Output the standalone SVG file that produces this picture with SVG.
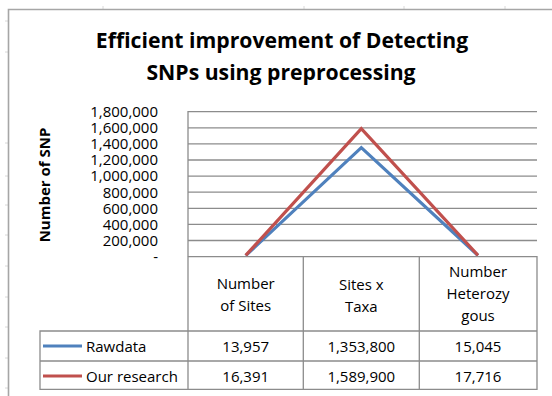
<svg xmlns="http://www.w3.org/2000/svg" width="552" height="396" viewBox="0 0 552 396">
<style>
text{font-family:"Open Sans","Liberation Sans",sans-serif;fill:#000}
.title{font-size:21.2px;font-weight:bold;text-anchor:middle}
.ax{font-size:15px;text-anchor:end}
.cell{font-size:15px;text-anchor:middle}
.leg{font-size:15px}
.grid{stroke:#8c8c8c;stroke-width:1.3;fill:none}
.tbl{stroke:#8c8c8c;stroke-width:1.3;fill:none}
.raw{stroke:#4F81BD;stroke-width:3.2;fill:none;stroke-linejoin:miter}
.ours{stroke:#C0504D;stroke-width:3.2;fill:none;stroke-linejoin:miter}
.tick{stroke:#d8d8d8;stroke-width:1}
</style>
<rect width="552" height="396" fill="#ffffff"/>
<g id="sheet-ticks">
<line class="tick" x1="103" y1="6" x2="103" y2="9"/>
<line class="tick" x1="304" y1="6" x2="304" y2="9"/>
<line class="tick" x1="404" y1="6" x2="404" y2="9"/>
<line class="tick" x1="505" y1="6" x2="505" y2="9"/>
<line class="tick" x1="5" y1="21" x2="8" y2="21"/>
<line class="tick" x1="5" y1="52" x2="8" y2="52"/>
<line class="tick" x1="5" y1="143" x2="8" y2="143"/>
<line class="tick" x1="5" y1="176" x2="8" y2="176"/>
<line class="tick" x1="5" y1="205" x2="8" y2="205"/>
<line class="tick" x1="5" y1="235" x2="8" y2="235"/>
<line class="tick" x1="5" y1="266" x2="8" y2="266"/>
<line class="tick" x1="5" y1="297" x2="8" y2="297"/>
<line class="tick" x1="5" y1="327" x2="8" y2="327"/>
<line class="tick" x1="5" y1="358" x2="8" y2="358"/>
<line class="tick" x1="5" y1="388" x2="8" y2="388"/>
</g>
<g id="frame">
<path d="M8.5 396 V9.5 H552" stroke="#a6a6a6" stroke-width="1.6" fill="none"/>
</g>
<g id="title">
<text class="title" x="282" y="48">Efficient improvement of Detecting</text>
<text class="title" x="281" y="80">SNPs using preprocessing</text>
</g>
<g id="y-axis-title">
<text x="50" y="185" font-size="15" font-weight="bold" text-anchor="middle" transform="rotate(-90 50 185)">Number of SNP</text>
</g>
<g id="gridlines">
<line class="grid" x1="188" y1="111.7" x2="537" y2="111.7"/>
<line class="grid" x1="188" y1="127.8" x2="537" y2="127.8"/>
<line class="grid" x1="188" y1="143.9" x2="537" y2="143.9"/>
<line class="grid" x1="188" y1="160" x2="537" y2="160"/>
<line class="grid" x1="188" y1="176.1" x2="537" y2="176.1"/>
<line class="grid" x1="188" y1="192.2" x2="537" y2="192.2"/>
<line class="grid" x1="188" y1="208.3" x2="537" y2="208.3"/>
<line class="grid" x1="188" y1="224.4" x2="537" y2="224.4"/>
<line class="grid" x1="188" y1="240.5" x2="537" y2="240.5"/>
<line class="grid" x1="188" y1="111" x2="188" y2="257"/>
</g>
<g id="y-axis-labels">
<text class="ax" x="158" y="117">1,800,000</text>
<text class="ax" x="158" y="133">1,600,000</text>
<text class="ax" x="158" y="149">1,400,000</text>
<text class="ax" x="158" y="165">1,200,000</text>
<text class="ax" x="158" y="181">1,000,000</text>
<text class="ax" x="158" y="197.5">800,000</text>
<text class="ax" x="158" y="213.5">600,000</text>
<text class="ax" x="158" y="229.5">400,000</text>
<text class="ax" x="158" y="245.5">200,000</text>
<text class="ax" x="158" y="262">-</text>
</g>
<g id="connectors">
<polyline id="series-rawdata" class="raw" points="245.7,255.6 361.3,147.6 478,255.5"/>
<polyline id="series-our-research" class="ours" points="245.7,255.4 361.3,128.6 478,255.3"/>
</g>
<g id="data-table">
<path class="tbl" d="M188 256.7 H537 V389.3 H40 V331 H537 M40 361 H537 M188 256.7 V389.3 M303.3 256.7 V389.3 M419.3 256.7 V389.3"/>
</g>
<g id="header-number-of-sites">
<text class="cell" x="245.7" y="288.5">Number</text>
<text class="cell" x="245.7" y="310.5">of Sites</text>
</g>
<g id="header-sites-x-taxa">
<text class="cell" x="361.3" y="289.5">Sites x</text>
<text class="cell" x="361.3" y="311.5">Taxa</text>
</g>
<g id="header-number-heterozygous">
<text class="cell" x="478" y="276.7">Number</text>
<text class="cell" x="478" y="298.5">Heterozy</text>
<text class="cell" x="478" y="320.5">gous</text>
</g>
<g id="row-rawdata">
<line x1="43" y1="346" x2="82" y2="346" class="raw"/>
<text class="leg" x="86" y="351.5">Rawdata</text>
<text class="cell" x="245.7" y="351.5">13,957</text>
<text class="cell" x="361.3" y="351.5">1,353,800</text>
<text class="cell" x="478" y="351.5">15,045</text>
</g>
<g id="row-our-research">
<line x1="43" y1="376" x2="82" y2="376" class="ours"/>
<text class="leg" x="86" y="381.5">Our research</text>
<text class="cell" x="245.7" y="381.5">16,391</text>
<text class="cell" x="361.3" y="381.5">1,589,900</text>
<text class="cell" x="478" y="381.5">17,716</text>
</g>
</svg>
